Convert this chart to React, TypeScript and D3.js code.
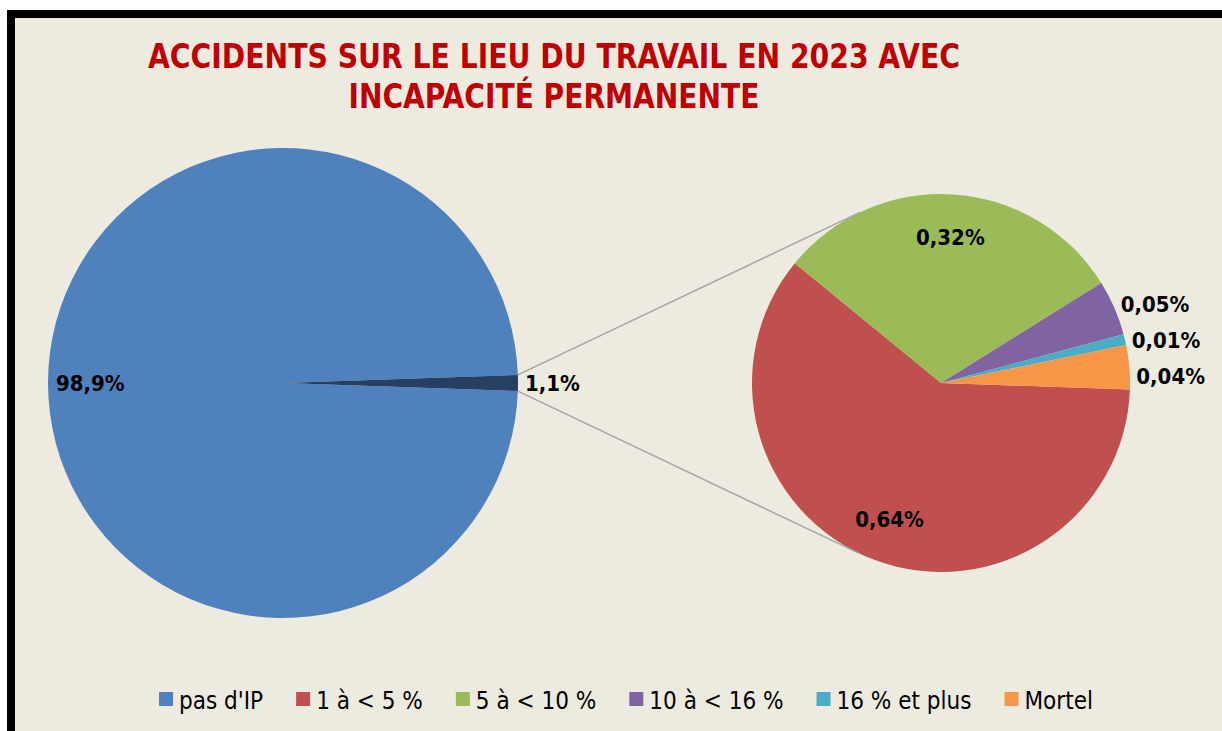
import React, { useEffect, useRef } from "react"
import * as d3 from "d3"

// chart data
const titleLines = [ "ACCIDENTS SUR LE LIEU DU TRAVAIL EN 2023 AVEC", "INCAPACITÉ PERMANENTE" ]
const mainLabels = [ "pas d'IP", "avec IP" ]
const mainValues = [ 98.9, 1.1 ]
const subLabels = [ "1 à < 5 %", "5 à < 10 %", "10 à < 16 %", "16 % et plus", "Mortel" ]
const subValues = [ 0.64, 0.32, 0.05, 0.01, 0.04 ]
const legendLabels = [ mainLabels[ 0 ], ...subLabels ]

const mainColors = [ "#4F81BD", "#254061" ]
const subColors = [ "#C0504D", "#9BBB59", "#8064A2", "#4BACC6", "#F79646" ]
const legendColors = [ mainColors[ 0 ], ...subColors ]

const W = 1222
const H = 731
const BG = "#EDEAE0"
const FONT = "'DejaVu Sans Condensed', 'DejaVu Sans', sans-serif"

const frLocale = d3.formatLocale( { decimal: ",", thousands: " ", grouping: [ 3 ], currency: [ "", " €" ] } )
const fmt1 = frLocale.format( ".1f" )
const fmt2 = frLocale.format( ".2f" )

// point on a circle, angle measured clockwise from 12 o'clock (d3 convention)
const polar = ( cx: number, cy: number, r: number, a: number ): [number, number] => [
  cx + r * Math.sin( a ),
  cy - r * Math.cos( a )
]

export default function App() {
  const ref = useRef<SVGSVGElement>( null )

  useEffect( () => {
    const svg = d3.select( ref.current )
    svg.selectAll( "*" ).remove()

    // frame
    svg.append( "rect" )
      .attr( "x", 11 ).attr( "y", 14 )
      .attr( "width", W + 40 ).attr( "height", H + 40 )
      .attr( "fill", BG )
      .attr( "stroke", "#000" )
      .attr( "stroke-width", 8 )

    // title
    const titleWidths = [ 812, 411 ]
    svg.append( "g" )
      .selectAll( "text" )
      .data( titleLines )
      .join( "text" )
      .attr( "x", 554 )
      .attr( "y", ( d, i ) => 68 + i * 40 )
      .attr( "text-anchor", "middle" )
      .attr( "font-family", FONT )
      .attr( "font-weight", "bold" )
      .attr( "font-size", 34 )
      .attr( "fill", "#C00000" )
      .attr( "textLength", ( d, i ) => titleWidths[ i ] )
      .attr( "lengthAdjust", "spacingAndGlyphs" )
      .text( d => d )

    // main pie
    const mcx = 283, mcy = 383, mr = 235
    const mainTotal = d3.sum( mainValues )
    const smallShare = mainValues[ 1 ] / mainTotal
    const a0 = Math.PI / 2 + Math.PI * smallShare
    const mainArcs = d3.pie<number>().sort( null ).startAngle( a0 ).endAngle( a0 + 2 * Math.PI )( mainValues )
    const mainArc = d3.arc<d3.PieArcDatum<number>>().innerRadius( 0 ).outerRadius( mr )

    const gMain = svg.append( "g" ).attr( "transform", `translate(${ mcx },${ mcy })` )
    gMain.selectAll( "path" )
      .data( mainArcs )
      .join( "path" )
      .attr( "d", mainArc )
      .attr( "fill", ( d, i ) => mainColors[ i ] )

    // sub pie
    const scx = 941, scy = 383, sr = 189
    const subRotation = 92 * Math.PI / 180
    const subTotal = d3.sum( subValues )
    const subArcs = d3.pie<number>().sort( null ).startAngle( subRotation ).endAngle( subRotation + 2 * Math.PI )( subValues )
    const subArc = d3.arc<d3.PieArcDatum<number>>().innerRadius( 0 ).outerRadius( sr )

    const gSub = svg.append( "g" ).attr( "transform", `translate(${ scx },${ scy })` )
    gSub.selectAll( "path" )
      .data( subArcs )
      .join( "path" )
      .attr( "d", subArc )
      .attr( "fill", ( d, i ) => subColors[ i ] )

    // connector lines: slice corners of main pie -> tangents of sub pie
    const small = mainArcs[ 1 ]
    const connect = ( a: number, side: number ) => {
      const p = polar( mcx, mcy, mr, a )
      const dx = p[ 0 ] - scx, dy = p[ 1 ] - scy
      const d = Math.hypot( dx, dy )
      const phi = Math.atan2( dx, -dy )
      const q = polar( scx, scy, sr, phi + side * Math.acos( sr / d ) )
      return [ p, q ]
    }
    const lines = [ connect( small.startAngle, 1 ), connect( small.endAngle, -1 ) ]
    svg.append( "g" )
      .selectAll( "line" )
      .data( lines )
      .join( "line" )
      .attr( "x1", d => d[ 0 ][ 0 ] ).attr( "y1", d => d[ 0 ][ 1 ] )
      .attr( "x2", d => d[ 1 ][ 0 ] ).attr( "y2", d => d[ 1 ][ 1 ] )
      .attr( "stroke", "#A6A6A6" )
      .attr( "stroke-width", 1.5 )

    const labelStyle = ( sel: any ) => sel
      .attr( "font-family", FONT )
      .attr( "font-weight", "bold" )
      .attr( "font-size", 22 )
      .attr( "fill", "#000" )
      .attr( "dominant-baseline", "central" )

    // main pie labels
    const mainInside = mainArcs[ 0 ]
    const mMid = ( mainInside.startAngle + mainInside.endAngle ) / 2
    const mp = polar( mcx, mcy, mr * 0.82, mMid )
    svg.append( "text" ).call( labelStyle )
      .attr( "x", mp[ 0 ] ).attr( "y", mp[ 1 ] )
      .attr( "text-anchor", "middle" )
      .text( fmt1( mainValues[ 0 ] ) + "%" )
    const sMid = ( small.startAngle + small.endAngle ) / 2
    const op = polar( mcx, mcy, mr + 7, sMid )
    svg.append( "text" ).call( labelStyle )
      .attr( "x", op[ 0 ] ).attr( "y", op[ 1 ] )
      .attr( "text-anchor", "start" )
      .text( fmt1( mainValues[ 1 ] ) + "%" )

    // sub pie labels: big slices inside, thin slices outside and stacked
    const inside = subArcs.filter( d => d.value / subTotal >= 0.1 )
    const outside = subArcs.filter( d => d.value / subTotal < 0.1 )
    inside.forEach( d => {
      const p = polar( scx, scy, sr * 0.77, ( d.startAngle + d.endAngle ) / 2 )
      svg.append( "text" ).call( labelStyle )
        .attr( "x", p[ 0 ] ).attr( "y", p[ 1 ] )
        .attr( "text-anchor", "middle" )
        .text( fmt2( d.value ) + "%" )
    } )
    const outPos = outside.map( d => {
      const p = polar( scx, scy, sr + 7, ( d.startAngle + d.endAngle ) / 2 )
      return { d, x: p[ 0 ], y: p[ 1 ] }
    } ).sort( ( a, b ) => a.y - b.y )
    for ( let i = 1; i < outPos.length; i++ ) {
      outPos[ i ].y = Math.max( outPos[ i ].y, outPos[ i - 1 ].y + 36 )
    }
    outPos.forEach( o => {
      svg.append( "text" ).call( labelStyle )
        .attr( "x", o.x ).attr( "y", o.y )
        .attr( "text-anchor", "start" )
        .text( fmt2( o.d.value ) + "%" )
    } )

    // legend, measured and centred
    const legend = svg.append( "g" )
    const items = legend.selectAll( "g" )
      .data( legendLabels )
      .join( "g" )
    items.append( "rect" )
      .attr( "width", 14 ).attr( "height", 14 )
      .attr( "y", -17 )
      .attr( "fill", ( d, i ) => legendColors[ i ] )
    items.append( "text" )
      .attr( "x", 20 )
      .attr( "font-family", FONT )
      .attr( "font-size", 24 )
      .attr( "fill", "#000" )
      .text( d => d )
    const widths = items.nodes().map( n => 20 + ( n.querySelector( "text" ) as SVGTextElement ).getComputedTextLength() )
    const gap = 33
    const total = d3.sum( widths ) + gap * ( widths.length - 1 )
    let x = 626 - total / 2
    items.attr( "transform", ( d, i ) => {
      const t = `translate(${ x },709)`
      x += widths[ i ] + gap
      return t
    } )
  }, [] )

  return (
    <svg
      ref={ ref }
      width={ W }
      height={ H }
      style={ { position: "absolute", left: 0, top: 0, background: "#fff" } }
    />
  )
}
